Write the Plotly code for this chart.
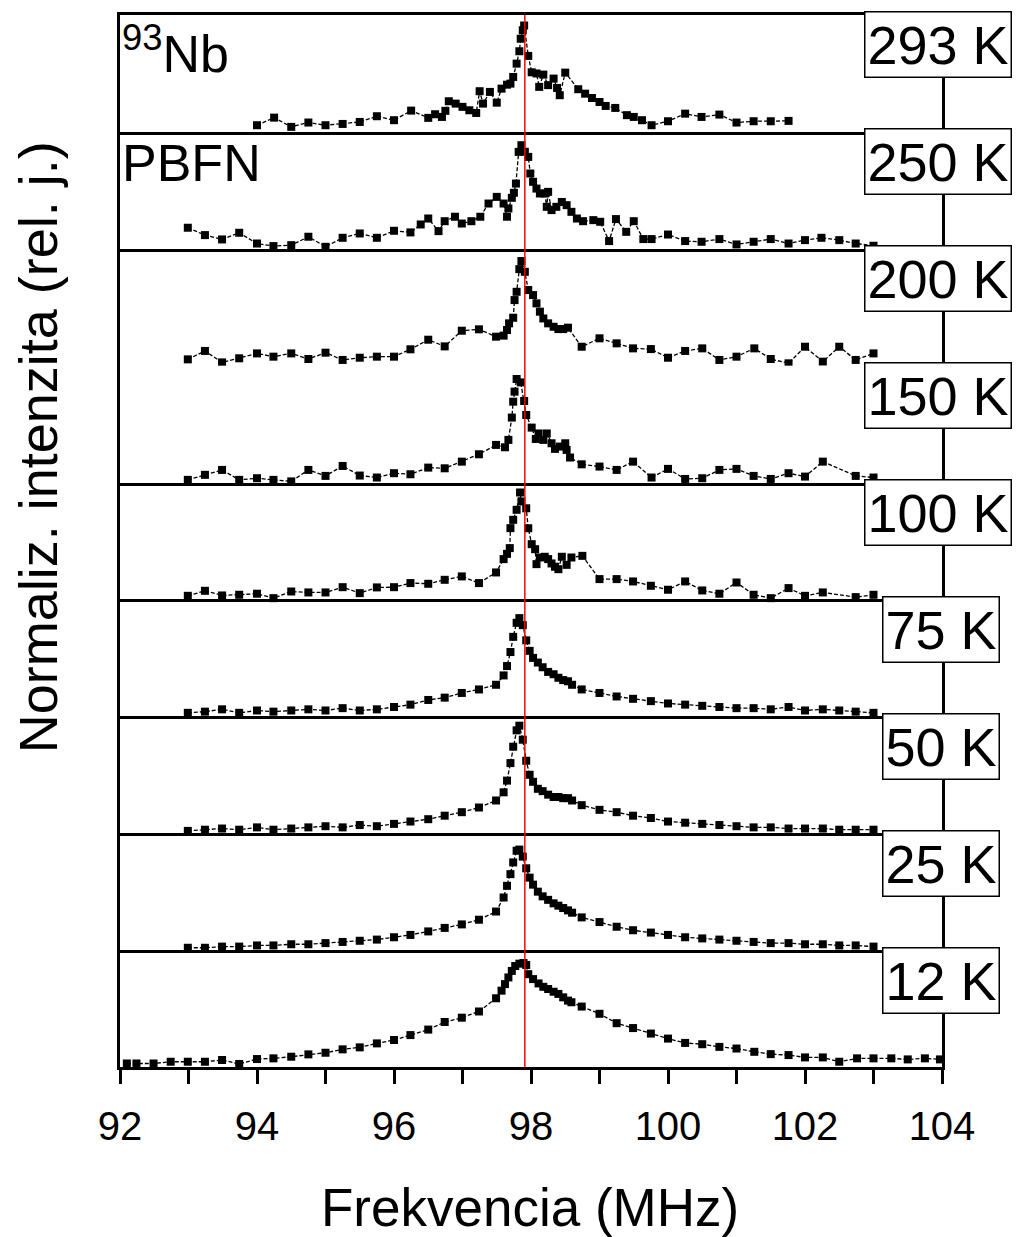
import plotly.graph_objects as go
from plotly.subplots import make_subplots

temps = ["293 K", "250 K", "200 K", "150 K", "100 K", "75 K", "50 K", "25 K", "12 K"]

f293 = [94.0, 94.25, 94.5, 94.75, 95.0, 95.25, 95.5, 95.75, 96.0, 96.25, 96.5, 96.6, 96.7, 96.75, 96.8, 96.9,
        97.0, 97.1, 97.2, 97.25, 97.3, 97.4, 97.5, 97.57, 97.65, 97.7, 97.74, 97.79, 97.83, 97.85, 97.88, 97.9,
        97.96, 98.01, 98.08, 98.12, 98.18, 98.25, 98.33, 98.38, 98.42, 98.5, 98.69, 98.79, 98.89, 99.0, 99.09,
        99.23, 99.4, 99.5, 99.62, 99.76, 100.0, 100.25, 100.49, 100.75, 101.0, 101.25, 101.5, 101.76]
i293 = [0.057, 0.122, 0.043, 0.08, 0.057, 0.068, 0.085, 0.134, 0.1, 0.182, 0.12, 0.151, 0.128, 0.18, 0.262, 0.242,
        0.214, 0.185, 0.162, 0.348, 0.242, 0.342, 0.25, 0.37, 0.404, 0.413, 0.47, 0.584, 0.69, 0.797, 0.869, 0.91,
        0.65, 0.51, 0.50, 0.385, 0.49, 0.40, 0.456, 0.376, 0.314, 0.507, 0.365, 0.327, 0.29, 0.256, 0.222,
        0.205, 0.143, 0.128, 0.1, 0.057, 0.091, 0.156, 0.128, 0.148, 0.08, 0.091, 0.091, 0.094]

f250 = [92.99, 93.24, 93.49, 93.74, 94.0, 94.24, 94.5, 94.75, 95.0, 95.25, 95.5, 95.75, 96.0, 96.24, 96.39, 96.5,
        96.65, 96.74, 96.89, 96.99, 97.13, 97.26, 97.38, 97.5, 97.6, 97.65, 97.67, 97.72, 97.75, 97.78, 97.82,
        97.86, 97.91, 97.96, 97.99, 98.03, 98.08, 98.13, 98.2, 98.23, 98.25, 98.3, 98.37, 98.45, 98.52, 98.59,
        98.67, 98.76, 98.91, 99.01, 99.14, 99.24, 99.39, 99.5, 99.64, 99.76, 100.0, 100.25, 100.49, 100.75,
        101.0, 101.25, 101.5, 101.76, 102.0, 102.24, 102.5, 102.74, 103.0]
i250 = [0.18, 0.117, 0.08, 0.137, 0.045, 0.023, 0.031, 0.103, 0.017, 0.094, 0.131, 0.094, 0.154, 0.14, 0.208, 0.259,
        0.151, 0.236, 0.274, 0.216, 0.236, 0.274, 0.387, 0.444, 0.387, 0.274, 0.345, 0.436, 0.479, 0.558, 0.829,
        0.886, 0.83, 0.786, 0.644, 0.573, 0.515, 0.473, 0.473, 0.359, 0.487, 0.331, 0.359, 0.4, 0.373, 0.316,
        0.259, 0.236, 0.245, 0.231, 0.066, 0.254, 0.145, 0.236, 0.083, 0.083, 0.122, 0.066, 0.06, 0.083,
        0.037, 0.06, 0.083, 0.045, 0.074, 0.094, 0.074, 0.045, 0.026]

f200 = [92.99, 93.24, 93.49, 93.74, 94.0, 94.24, 94.5, 94.75, 95.0, 95.25, 95.5, 95.75, 96.0, 96.24, 96.5, 96.74,
        96.99, 97.24, 97.49, 97.6, 97.65, 97.68, 97.74, 97.76, 97.79, 97.83, 97.86, 97.91, 97.96, 98.03, 98.08,
        98.13, 98.18, 98.25, 98.33, 98.4, 98.47, 98.54, 98.74, 99.0, 99.25, 99.49, 99.75, 100.0, 100.25, 100.5,
        100.75, 101.0, 101.26, 101.5, 101.76, 102.0, 102.26, 102.5, 102.74, 103.0]
i200 = [0.054, 0.126, 0.028, 0.063, 0.105, 0.077, 0.105, 0.057, 0.111, 0.049, 0.068, 0.077, 0.077, 0.14, 0.222, 0.165,
        0.299, 0.311, 0.248, 0.257, 0.305, 0.362, 0.41, 0.561, 0.632, 0.826, 0.895, 0.803, 0.647, 0.604, 0.533,
        0.462, 0.404, 0.362, 0.333, 0.313, 0.313, 0.325, 0.162, 0.234, 0.191, 0.148, 0.142, 0.068, 0.126, 0.148,
        0.049, 0.077, 0.148, 0.057, 0.02, 0.162, 0.034, 0.162, 0.049, 0.105]

f150 = [92.99, 93.24, 93.49, 93.74, 94.0, 94.24, 94.5, 94.75, 95.0, 95.25, 95.5, 95.75, 96.0, 96.24, 96.5, 96.74,
        96.99, 97.24, 97.49, 97.62, 97.67, 97.72, 97.74, 97.76, 97.79, 97.85, 97.9, 97.93, 98.01, 98.07, 98.11,
        98.18, 98.23, 98.3, 98.35, 98.42, 98.5, 98.52, 98.57, 98.74, 99.0, 99.25, 99.49, 99.76, 100.0, 100.25,
        100.5, 100.75, 101.0, 101.25, 101.5, 101.76, 102.0, 102.26, 102.74, 103.0]
i150 = [0.023, 0.066, 0.108, 0.023, 0.037, 0.023, 0.01, 0.108, 0.057, 0.142, 0.06, 0.043, 0.08, 0.071, 0.128, 0.122,
        0.179, 0.242, 0.322, 0.302, 0.365, 0.556, 0.692, 0.778, 0.886, 0.857, 0.698, 0.578, 0.47, 0.373, 0.42,
        0.365, 0.42, 0.336, 0.288, 0.308, 0.336, 0.279, 0.214, 0.156, 0.137, 0.108, 0.179, 0.043, 0.117, 0.031,
        0.037, 0.108, 0.117, 0.057, 0.031, 0.08, 0.051, 0.179, 0.057, 0.043]

f100 = [92.99, 93.24, 93.49, 93.74, 94.0, 94.24, 94.5, 94.75, 95.0, 95.25, 95.5, 95.75, 96.0, 96.24, 96.5, 96.74,
        96.99, 97.24, 97.49, 97.6, 97.65, 97.69, 97.7, 97.74, 97.79, 97.84, 97.86, 97.93, 97.96, 98.01, 98.06,
        98.08, 98.13, 98.2, 98.25, 98.3, 98.35, 98.4, 98.45, 98.52, 98.59, 98.75, 99.0, 99.25, 99.49, 99.75,
        100.0, 100.25, 100.5, 100.75, 101.0, 101.25, 101.5, 101.76, 102.0, 102.26, 102.74, 103.0]
i100 = [0.031, 0.074, 0.034, 0.04, 0.049, 0.011, 0.068, 0.06, 0.06, 0.105, 0.054, 0.103, 0.105, 0.14, 0.134, 0.168,
        0.197, 0.14, 0.231, 0.345, 0.39, 0.439, 0.61, 0.681, 0.767, 0.915, 0.838, 0.78, 0.609, 0.473, 0.43,
        0.302, 0.359, 0.365, 0.345, 0.308, 0.28, 0.259, 0.365, 0.296, 0.359, 0.373, 0.174, 0.174, 0.154, 0.117,
        0.083, 0.154, 0.077, 0.049, 0.145, 0.04, 0.011, 0.097, 0.031, 0.06, 0.02, 0.04]

f75 = [92.99, 93.24, 93.49, 93.74, 94.0, 94.24, 94.5, 94.75, 95.0, 95.25, 95.5, 95.75, 96.0, 96.24, 96.5, 96.74,
       96.99, 97.24, 97.49, 97.6, 97.65, 97.7, 97.74, 97.79, 97.83, 97.88, 97.93, 97.98, 98.03, 98.1, 98.17,
       98.25, 98.33, 98.4, 98.47, 98.54, 98.6, 98.74, 99.0, 99.25, 99.49, 99.75, 100.0, 100.25, 100.5, 100.75,
       101.0, 101.25, 101.5, 101.76, 102.0, 102.26, 102.5, 102.74, 103.0]
i75 = [0.03, 0.04, 0.06, 0.03, 0.05, 0.04, 0.05, 0.06, 0.05, 0.07, 0.05, 0.06, 0.08, 0.1, 0.14, 0.16,
       0.2, 0.23, 0.27, 0.35, 0.43, 0.55, 0.68, 0.8, 0.84, 0.78, 0.65, 0.56, 0.5, 0.46, 0.42,
       0.38, 0.36, 0.33, 0.31, 0.3, 0.27, 0.23, 0.2, 0.17, 0.15, 0.13, 0.11, 0.1, 0.09, 0.08,
       0.07, 0.07, 0.06, 0.08, 0.05, 0.06, 0.05, 0.04, 0.03]

f50 = [92.99, 93.24, 93.49, 93.74, 94.0, 94.24, 94.5, 94.75, 95.0, 95.25, 95.5, 95.75, 96.0, 96.24, 96.5, 96.74,
       96.99, 97.24, 97.49, 97.6, 97.65, 97.7, 97.74, 97.79, 97.83, 97.88, 97.93, 97.98, 98.03, 98.1, 98.17,
       98.25, 98.33, 98.4, 98.47, 98.54, 98.6, 98.74, 99.0, 99.25, 99.49, 99.75, 100.0, 100.25, 100.5, 100.75,
       101.0, 101.25, 101.5, 101.76, 102.0, 102.26, 102.5, 102.74, 103.0]
i50 = [0.02, 0.03, 0.04, 0.03, 0.05, 0.03, 0.04, 0.05, 0.06, 0.05, 0.07, 0.06, 0.08, 0.1, 0.12, 0.15,
       0.18, 0.22, 0.28, 0.35, 0.45, 0.6, 0.74, 0.88, 0.92, 0.8, 0.62, 0.5, 0.44, 0.38, 0.36,
       0.33, 0.31, 0.31, 0.3, 0.3, 0.28, 0.24, 0.2, 0.18, 0.15, 0.13, 0.1, 0.09, 0.08, 0.07,
       0.06, 0.05, 0.05, 0.04, 0.04, 0.04, 0.03, 0.03, 0.03]

f25 = [92.99, 93.24, 93.49, 93.74, 94.0, 94.24, 94.5, 94.75, 95.0, 95.25, 95.5, 95.75, 96.0, 96.24, 96.5, 96.74,
       96.99, 97.24, 97.49, 97.6, 97.65, 97.7, 97.74, 97.79, 97.83, 97.88, 97.93, 97.98, 98.03, 98.1, 98.17,
       98.25, 98.33, 98.4, 98.47, 98.54, 98.6, 98.74, 99.0, 99.25, 99.49, 99.75, 100.0, 100.25, 100.5, 100.75,
       101.0, 101.25, 101.5, 101.76, 102.0, 102.26, 102.5, 102.74, 103.0]
i25 = [0.02, 0.02, 0.03, 0.03, 0.04, 0.04, 0.05, 0.05, 0.06, 0.07, 0.08, 0.09, 0.11, 0.13, 0.16, 0.19,
       0.22, 0.26, 0.33, 0.45, 0.55, 0.65, 0.75, 0.85, 0.86, 0.8, 0.7, 0.62, 0.56, 0.5, 0.46,
       0.43, 0.4, 0.38, 0.36, 0.34, 0.32, 0.28, 0.24, 0.2, 0.17, 0.15, 0.13, 0.11, 0.1, 0.09,
       0.08, 0.07, 0.06, 0.06, 0.05, 0.05, 0.04, 0.04, 0.03]

f12 = [92.1, 92.24, 92.49, 92.74, 92.99, 93.24, 93.49, 93.74, 94.0, 94.24, 94.5, 94.75, 95.0, 95.25, 95.5, 95.75,
       96.0, 96.24, 96.5, 96.74, 96.99, 97.24, 97.49, 97.57, 97.62, 97.67, 97.72, 97.77, 97.83, 97.89, 97.93,
       97.96, 98.03, 98.11, 98.18, 98.25, 98.33, 98.4, 98.47, 98.54, 98.59, 98.74, 99.0, 99.25, 99.49, 99.75,
       100.0, 100.25, 100.5, 100.75, 101.0, 101.26, 101.5, 101.76, 102.0, 102.26, 102.5, 102.76, 103.0, 103.26,
       103.5, 103.75, 103.97]
i12 = [0.03, 0.03, 0.03, 0.045, 0.045, 0.045, 0.06, 0.026, 0.068, 0.074, 0.088, 0.108, 0.122, 0.151, 0.168, 0.202,
       0.231, 0.273, 0.32, 0.385, 0.422, 0.475, 0.588, 0.653, 0.709, 0.766, 0.822, 0.864, 0.884, 0.89, 0.873,
       0.794, 0.752, 0.715, 0.686, 0.667, 0.644, 0.625, 0.596, 0.568, 0.554, 0.517, 0.455, 0.375, 0.333, 0.286,
       0.243, 0.206, 0.195, 0.172, 0.158, 0.13, 0.11, 0.102, 0.082, 0.082, 0.045, 0.074, 0.074, 0.074,
       0.065, 0.074, 0.065]

series = [(f293, i293), (f250, i250), (f200, i200), (f150, i150), (f100, i100),
          (f75, i75), (f50, i50), (f25, i25), (f12, i12)]

x_ticks = [92, 94, 96, 98, 100, 102, 104]
ref_freq = 97.91
FONT = "Liberation Sans, Arial, sans-serif"

n = len(series)
fig = make_subplots(rows=n, cols=1, shared_xaxes=True, vertical_spacing=0)

for r, (fx, iy) in enumerate(series, start=1):
    fig.add_trace(go.Scatter(
        x=fx, y=iy, mode="lines+markers", cliponaxis=False,
        line=dict(color="black", width=1.3, dash="4px,2px"),
        marker=dict(symbol="square", size=8, color="black"),
        showlegend=False), row=r, col=1)
    fig.update_yaxes(range=[0, 1], showline=True, mirror=True, linewidth=3, linecolor="black",
                     showticklabels=False, ticks="", showgrid=False, zeroline=False, row=r, col=1)
    last = (r == n)
    fig.update_xaxes(range=[92, 104], showline=True, mirror=(r == 1), linewidth=3, linecolor="black",
                     showgrid=False, zeroline=False,
                     ticks="outside" if last else "", ticklen=14, tickwidth=3, tickcolor="black",
                     showticklabels=last, tickvals=x_ticks if last else None,
                     ticktext=[str(v) for v in x_ticks] if last else None,
                     ticklabelstandoff=8,
                     tickfont=dict(size=40, color="black", family=FONT),
                     minor=dict(ticks="outside" if last else "", dtick=1, tick0=92, ticklen=14,
                                tickwidth=3, tickcolor="black"),
                     row=r, col=1)
    yref = "y domain" if r == 1 else f"y{r} domain"
    xr = 1.0852 if len(temps[r - 1]) > 4 else 1.0706
    fig.add_annotation(text=temps[r - 1], xref="paper", yref=yref, x=xr, y=1.03,
                       xanchor="right", yanchor="top", showarrow=False,
                       font=dict(size=54, color="black", family=FONT),
                       bgcolor="white", bordercolor="black", borderwidth=1.5, borderpad=2)

fig.add_shape(type="line", xref="x", yref="paper", x0=ref_freq, x1=ref_freq, y0=0, y1=1,
              line=dict(color="red", width=1.5), layer="above")

fig.add_annotation(text="<sup>93</sup>Nb", xref="paper", yref="y domain", x=0.0, y=1.0,
                   xanchor="left", yanchor="top", showarrow=False,
                   font=dict(size=52, color="black", family=FONT))
fig.add_annotation(text="PBFN", xref="paper", yref="y2 domain", x=0.0, y=1.0,
                   xanchor="left", yanchor="top", showarrow=False,
                   font=dict(size=52, color="black", family=FONT))
fig.add_annotation(text="Normaliz. intenzita (rel. j.)", xref="paper", yref="paper",
                   x=-0.0998, y=0.589, xanchor="center", yanchor="middle", textangle=-90,
                   showarrow=False, font=dict(size=54, color="black", family=FONT))
fig.add_annotation(text="Frekvencia (MHz)", xref="paper", yref="paper",
                   x=0.499, y=-0.1338, xanchor="center", yanchor="middle",
                   showarrow=False, font=dict(size=53, color="black", family=FONT))

fig.update_layout(width=1017, height=1237, margin=dict(l=120, r=75, t=13, b=170),
                  paper_bgcolor="white", plot_bgcolor="white",
                  font=dict(family=FONT, color="black"))
fig.write_html("out.html")
